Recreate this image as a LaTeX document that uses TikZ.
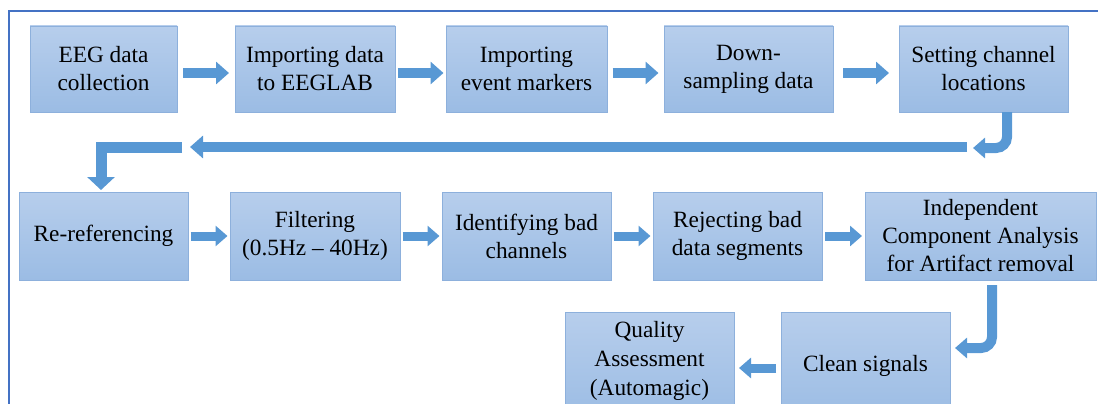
\documentclass[tikz,border=0pt]{standalone}
\usepackage{fontspec}
\setmainfont{Liberation Serif}
\usetikzlibrary{arrows.meta,calc}
\definecolor{framec}{RGB}{68,114,196}
\definecolor{boxtop}{RGB}{183,206,236}
\definecolor{boxbot}{RGB}{155,188,228}
\definecolor{boxline}{RGB}{141,176,220}
\definecolor{arr}{RGB}{88,152,212}
\tikzset{
  box/.style={draw=boxline, line width=0.8pt, top color=boxtop, bottom color=boxbot,
    inner sep=0pt, outer sep=0pt, align=center,
    font=\fontsize{23.3pt}{28pt}\selectfont},
  blkA/.style={draw=arr, line width=10.5pt, -{Triangle[width=22pt,length=13pt]}},
  blkB/.style={draw=arr, line width=9pt, -{Triangle[width=20pt,length=12pt]}},
  bentR/.style={draw=arr, line width=10pt, rounded corners=11pt, -{Triangle[width=20pt,length=12pt]}},
  bentS/.style={draw=arr, line width=11pt, -{Triangle[width=27pt,length=13pt]}},
  lbl/.style={align=center, inner sep=0pt, font=\fontsize{23.3pt}{29pt}\selectfont},
}
\newcommand\rowarrow[5]{% style, from, to, half length, yshift
  \path (#2.east) -- coordinate[pos=.5] (m#2#3) (#3.west);
  \draw[#1] ([xshift=-#4,yshift=#5]m#2#3) -- ([xshift=#4,yshift=#5]m#2#3);}
\newcommand\rowarrowL[5]{% leftward
  \path (#2.west) -- coordinate[pos=.5] (m#2#3) (#3.east);
  \draw[#1] ([xshift=#4,yshift=#5]m#2#3) -- ([xshift=-#4,yshift=#5]m#2#3);}
\begin{document}
\begin{tikzpicture}[x=1pt,y=-1pt]
\useasboundingbox (0,0) rectangle (1098,404);
\clip (0,0) rectangle (1098,404);
\draw[framec, line width=2pt] (9,410) -- (9,11) -- (1100,11);
% row 1
\node[box, minimum width=147pt, minimum height=86pt] (b1) at (103.5,69) {EEG data\\collection};
\node[box, minimum width=160pt, minimum height=86pt] (b2) at (315,69) {Importing data\\to EEGLAB};
\node[box, minimum width=161pt, minimum height=86pt] (b3) at (526.5,69) {Importing\\event markers};
\node[box, minimum width=169pt, minimum height=86pt] (b4) at (748.5,69) {Down-\\sampling data};
\node[box, minimum width=169pt, minimum height=86pt] (b5) at (983.5,69) {Setting channel\\locations};
% row 2
\node[box, minimum width=169pt, minimum height=88pt] (b6) at (103.5,236) {Re-referencing};
\node[box, minimum width=170pt, minimum height=88pt] (b7) at (315,236) {Filtering\\(0.5Hz -- 40Hz)};
\node[box, minimum width=169pt, minimum height=88pt] (b8) at (526.5,236) {Identifying bad\\channels};
\node[box, minimum width=169pt, minimum height=88pt] (b9) at (737.5,236) {Rejecting bad\\data segments};
\node[box, minimum width=231pt, minimum height=88pt] (b10) at (980.5,236) {Independent\\Component Analysis\\for Artifact removal};
% row 3
\node[box, minimum width=169pt, minimum height=108pt] (b11) at (649.5,366) {};
\node[lbl] (q11) at (649.5,361) {Quality\\Assessment\\(Automagic)};
\node[box, minimum width=169pt, minimum height=108pt] (b12) at (865.5,366) {Clean signals};
% row 1 arrows
\rowarrow{blkA}{b1}{b2}{23pt}{-4pt}
\rowarrow{blkA}{b2}{b3}{23pt}{-4pt}
\rowarrow{blkA}{b3}{b4}{23pt}{-4pt}
\rowarrow{blkA}{b4}{b5}{23pt}{-4pt}
% return path
\coordinate (t1) at (973,148);
\coordinate (r1) at (967,147);
\coordinate (l1) at (190,147);
\coordinate (s1) at (182,147);
\coordinate (d1) at (101,190);
\draw[bentR] ([xshift=23.5pt]b5.south) |- (t1);
\draw[blkA] (r1) -- (l1);
\draw[bentS] (s1) -| (d1);
% row 2 arrows
\rowarrow{blkB}{b6}{b7}{18.5pt}{0pt}
\rowarrow{blkB}{b7}{b8}{18.5pt}{0pt}
\rowarrow{blkB}{b8}{b9}{18.5pt}{0pt}
\rowarrow{blkB}{b9}{b10}{18.5pt}{0pt}
% down to row 3
\coordinate (t2) at (955,348);
\draw[bentR] ([xshift=11.5pt,yshift=-5pt]b10.south) |- (t2);
\rowarrowL{blkB}{b12}{b11}{18.5pt}{-2pt}
\end{tikzpicture}
\end{document}
